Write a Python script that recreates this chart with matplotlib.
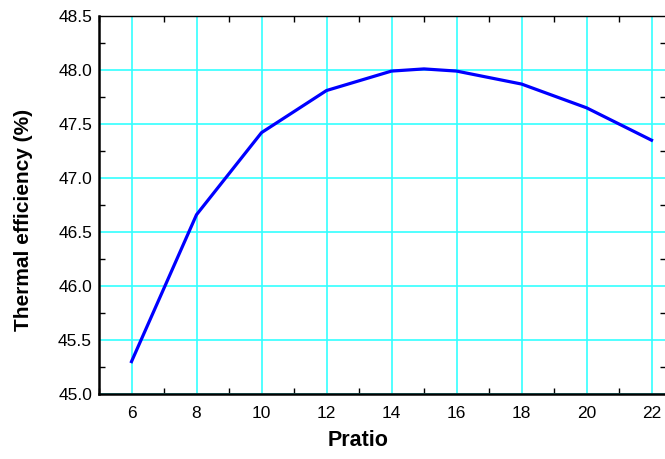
import matplotlib.pyplot as plt
from matplotlib.ticker import MultipleLocator

plt.rcParams['font.family'] = ['Liberation Sans', 'DejaVu Sans']

# datos
pratio = [6, 8, 10, 12, 14, 15, 16, 18, 20, 22]
eficiencia = [45.30, 46.66, 47.42, 47.81, 47.99, 48.01, 47.99, 47.87, 47.65, 47.35]

fig = plt.figure(figsize=(6.65, 4.59), dpi=100)
ax = fig.add_axes([99 / 665, 1 - 394 / 459, (665.5 - 99) / 665, (394 - 16) / 459])

ax.plot(pratio, eficiencia, color='#0000ff', lw=2.3, zorder=3)

ax.set_xlim(5, 22.43)
ax.set_ylim(45.0, 48.5)
ax.xaxis.set_major_locator(MultipleLocator(2))
ax.xaxis.set_minor_locator(MultipleLocator(1))
ax.yaxis.set_major_locator(MultipleLocator(0.5))
ax.yaxis.set_minor_locator(MultipleLocator(0.25))
ax.yaxis.set_major_formatter(plt.FormatStrFormatter('%.1f'))

ax.grid(True, which='major', color='#33ffff', lw=1.2, zorder=1)
ax.tick_params(which='both', direction='in', top=True, right=True,
               labelsize=12.5, colors='black')
ax.tick_params(axis='x', which='major', length=0, pad=9)
ax.tick_params(axis='y', which='major', length=0, pad=5)
ax.tick_params(which='minor', length=4, width=1)

for s in ['left', 'bottom']:
    ax.spines[s].set_linewidth(1.8)
for s in ['top', 'right']:
    ax.spines[s].set_linewidth(1.0)

ax.set_xlabel('Pratio', fontsize=15.5, fontweight='bold')
ax.set_ylabel('Thermal efficiency (%)', fontsize=15, fontweight='bold')
ax.xaxis.set_label_coords(0.457, -0.095)
ax.yaxis.set_label_coords(-0.116, 0.46)

fig.savefig('out.png', dpi=100)
